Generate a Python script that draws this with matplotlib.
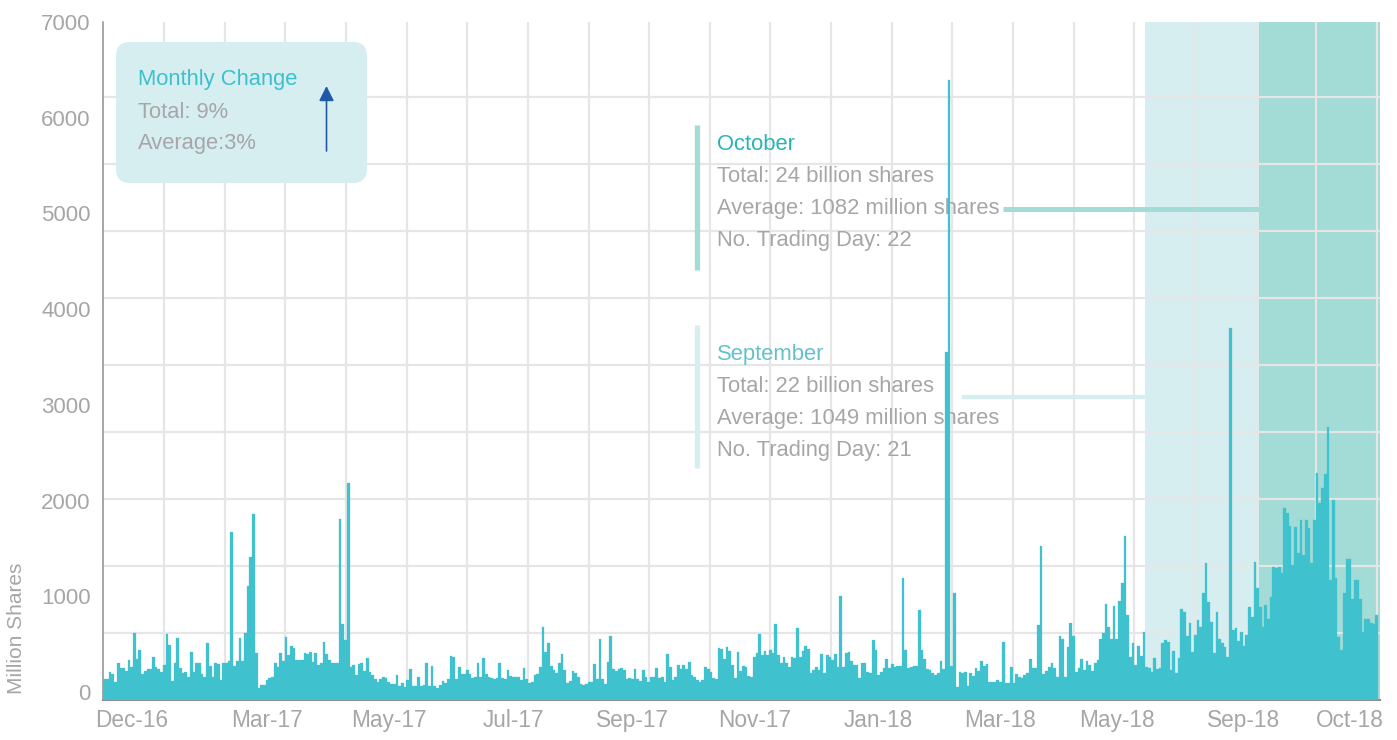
import numpy as np
import matplotlib
matplotlib.use("Agg")
import matplotlib.pyplot as plt
import matplotlib.transforms as mtransforms
from matplotlib.patches import FancyBboxPatch

# ---------------- data (million shares, one value per trading day) ----------------
vol_part1 = [219, 219, 296, 272, 192, 390, 331, 331, 306, 418,
             341, 697, 428, 522, 272, 306, 320, 320, 453, 341,
             320, 296, 366, 686, 575, 199, 383, 644, 331, 286,
             296, 237, 498, 296, 383, 383, 268, 244, 599, 355,
             237, 383, 373, 209, 383, 383, 408, 1752, 359, 408,
             644, 408, 697, 1195, 1498, 1940, 488, 122, 157, 157,
             209, 233, 244, 390, 341, 488, 408, 662, 470, 564,
             540, 418, 418, 418, 488, 481, 498, 401, 488, 366,
             390, 610, 481, 418, 390, 383, 383, 1891, 794, 627,
             2271, 348, 366, 261, 373, 390, 306, 435, 296, 261,
             216, 185, 216, 244, 226, 185, 167, 167, 261, 150,
             174, 139, 209, 320, 146]
vol_part2 = [146, 237, 146, 157, 383, 146, 355, 146, 122, 157,
             199, 174, 216, 460, 446, 216, 341, 272, 272, 313,
             272, 226, 244,
             390, 244, 435, 272, 244, 226, 216, 226, 390, 226,
             216, 313, 251, 244, 237, 244, 209, 331, 216, 174,
             185, 261, 272, 341, 766, 505, 599, 355, 313, 286,
             383, 477, 313, 174, 202, 306, 279, 244, 167, 153,
             164, 185, 192, 376, 216, 634, 216, 167, 401, 669,
             320, 306, 320, 331, 313, 216, 226, 216, 320,
             216, 199, 313, 244, 192, 237, 244, 331, 226, 244,
             192, 477, 348, 209, 244, 366, 320, 366, 320, 401,
             261, 244, 209, 192, 209, 341, 320, 296,
             226, 216, 540, 529, 425]
vol_part3 = [550, 515, 366, 226, 505, 306, 355, 341, 251, 244,
             453, 488, 690, 470, 515, 470, 522, 488, 794, 470,
             383, 453, 390, 348, 446, 435, 749, 453, 515, 564,
             529, 279, 313, 341, 313, 481, 279, 470, 446, 418,
             481, 341, 1087, 341, 488, 505, 411, 366, 366, 226,
             390, 390, 296, 279, 627, 522, 261, 296, 331, 425,
             331, 376, 341, 355, 355, 1271, 522, 331, 341, 355,
             355, 940, 522, 425, 320, 313, 279, 261, 279, 411,
             320, 3636, 6478, 355, 1121, 132, 296, 286, 296, 146,
             279, 251, 331, 306, 407, 355, 376, 192, 192, 192,
             209, 192, 610, 174, 181, 341, 181, 272, 237, 226,
             261, 286]
vol_part4 = [425, 338, 331, 784, 1609, 272, 306, 348, 390, 338,
             244, 669, 634, 244, 550, 808, 669, 296, 338, 425,
             313, 407, 366, 306, 383, 418, 634, 697, 1003, 766,
             634, 982, 634, 1034, 1219, 1714, 888, 453, 592, 366,
             564, 460, 707, 348, 331, 296, 435, 320, 331, 592,
             627, 610, 313, 515, 279, 435, 947, 923, 669, 808,
             505, 679, 836, 766, 1115, 1428, 1027, 818, 488, 923,
             634, 592, 557, 446, 3887, 731, 749, 620, 714, 564,
             679, 968, 871, 1445, 1167, 968, 766, 993, 843, 1073,
             1393, 1376, 1393, 1324, 2003, 1950, 1818, 1411, 1811, 1533,
             1881, 1515, 1881, 1794, 1428, 1881, 2368, 2062, 2212, 2361,
             2856, 1254, 2090, 1271, 655, 522, 1122, 1470, 1470, 1052,
             1254, 1254, 1052, 714, 843, 843, 801, 794, 888]

volume = vol_part1 + vol_part2 + vol_part3 + vol_part4

tick_labels = ["Dec-16", "Mar-17", "May-17", "Jul-17", "Sep-17", "Nov-17",
               "Jan-18", "Mar-18", "May-18", "Sep-18", "Oct-18"]
tick_bar_index = [10, 60, 105, 151, 195, 240, 286, 331, 374, 421, 460]
y_tick_values = [0, 1000, 2000, 3000, 4000, 5000, 6000, 7000]

sep_first_bar = 385
oct_first_bar = 427

box_title = "Monthly Change"
box_lines = ["Total: 9%", "Average:3%"]
oct_title = "October"
oct_lines = ["Total: 24 billion shares", "Average: 1082 million shares",
             "No. Trading Day: 22"]
sep_title = "September"
sep_lines = ["Total: 22 billion shares", "Average: 1049 million shares",
             "No. Trading Day: 21"]

# ---------------- style ----------------
BAR = "#40C1CE"
SEP_SHADE = "#D7EEF1"
OCT_SHADE = "#A3DBD6"
GRID = "#E6E6E6"
GREY_TXT = "#A6A6A9"
SPINE = "#8E8E8E"
ANN_FS = 15.8

plt.rcParams["font.family"] = ["Liberation Sans Narrow", "Liberation Sans", "DejaVu Sans"]

W, H = 1397, 740
fig = plt.figure(figsize=(W / 100, H / 100), dpi=100)
ax = fig.add_axes([103.3 / W, 40 / H, (1380 - 103.3) / W, (700 - 22) / H])

# pixel transform (origin top-left) for decorations
px = mtransforms.Affine2D().scale(1 / W, -1 / H).translate(0, 1) + fig.transFigure

N = len(volume)
x = np.arange(N)
ax.bar(x, volume, width=1.0, color=BAR, edgecolor=BAR, linewidth=0.2, zorder=3)

ax.set_xlim(-0.5, N + 0.24)
ax.set_ylim(0, 7000 * 678 / 670)

# month shading
ax.axvspan(sep_first_bar - 0.5, oct_first_bar - 0.5, color=SEP_SHADE, lw=0, zorder=0.1)
ax.axvspan(oct_first_bar - 0.5, N + 0.24, color=OCT_SHADE, lw=0, zorder=0.1)

# grid
ax.set_axisbelow(True)
ax.set_yticks(np.arange(700, 7001, 700), minor=True)
ax.set_xticks(-0.5 + np.arange(1, 22) * (N + 0.74) / 21.05, minor=True)
ax.grid(which="minor", color=GRID, lw=1.6)
ax.grid(which="major", visible=False)

# ticks
ax.set_yticks(y_tick_values)
ax.set_yticklabels([str(v) for v in y_tick_values])
ax.set_xticks(tick_bar_index)
ax.set_xticklabels(tick_labels)
ax.tick_params(which="both", length=0)
ax.tick_params(axis="y", labelsize=16, labelcolor=GREY_TXT, pad=9)
ax.tick_params(axis="x", labelsize=16.3, labelcolor=GREY_TXT, pad=6.5)
offset = mtransforms.ScaledTranslation(0, 8 / 100, fig.dpi_scale_trans)
for lab in ax.get_yticklabels():
    lab.set_transform(lab.get_transform() + offset)

for s in ["top", "right"]:
    ax.spines[s].set_visible(False)
ax.spines["left"].set_color(SPINE)
ax.spines["left"].set_linewidth(1.1)
ax.spines["bottom"].set_color(SPINE)
ax.spines["bottom"].set_linewidth(1.5)

# y label
ax.text(17, 628, "Million Shares", transform=px, rotation=90, ha="center",
        va="center", fontsize=15, color=GREY_TXT, clip_on=False)

# Monthly change box
box = FancyBboxPatch((116, 42), 251, 141, boxstyle="round,pad=0,rounding_size=14",
                     transform=px, fc=SEP_SHADE, ec="none", zorder=2, clip_on=False)
ax.add_patch(box)
ax.text(138, 85, box_title, transform=px, fontsize=ANN_FS, color="#3DC0CC", zorder=2.5)
for i, t in enumerate(box_lines):
    ax.text(138, 118 + 31.5 * i, t, transform=px, fontsize=ANN_FS, color=GREY_TXT, zorder=2.5)
ax.annotate("", xy=(326.5, 86), xycoords=px, xytext=(326.5, 151), textcoords=px,
            arrowprops=dict(arrowstyle="-|>,head_length=0.9,head_width=0.45",
                            mutation_scale=10, color="#1F5AA8", lw=1.2,
                            shrinkA=0, shrinkB=0), zorder=2.5)

# October block
ax.plot([697, 697], [125, 270], transform=px, color=OCT_SHADE, lw=3.8,
        solid_capstyle="butt", clip_on=False, zorder=2)
ax.text(717, 150, oct_title, transform=px, fontsize=ANN_FS, color="#2AB3B6", zorder=2.5)
for i, t in enumerate(oct_lines):
    ax.text(717, 182 + 32 * i, t, transform=px, fontsize=ANN_FS, color=GREY_TXT, zorder=2.5)
ax.plot([1003, 1260], [209, 209], transform=px, color=OCT_SHADE, lw=3.6,
        solid_capstyle="butt", clip_on=False, zorder=2)

# September block
ax.plot([697, 697], [325, 468], transform=px, color=SEP_SHADE, lw=3.8,
        solid_capstyle="butt", clip_on=False, zorder=2)
ax.text(717, 360, sep_title, transform=px, fontsize=ANN_FS, color="#62C1CD", zorder=2.5)
for i, t in enumerate(sep_lines):
    ax.text(717, 392 + 32 * i, t, transform=px, fontsize=ANN_FS, color=GREY_TXT, zorder=2.5)
ax.plot([962, 1145], [397, 397], transform=px, color=SEP_SHADE, lw=3.2,
        solid_capstyle="butt", clip_on=False, zorder=2)

fig.savefig("out.png", dpi=100)
